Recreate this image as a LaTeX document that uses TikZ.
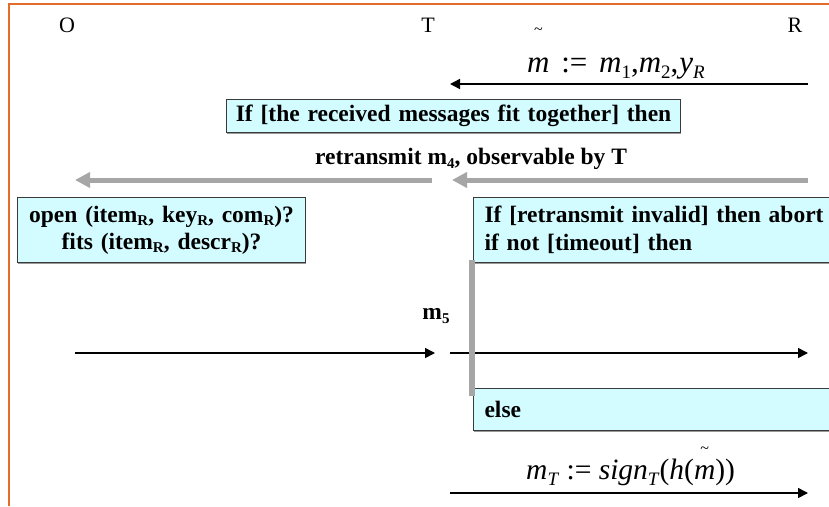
\documentclass[tikz,border=0pt]{standalone}
\usepackage{fontspec}
\setmainfont{Liberation Serif}
\usetikzlibrary{arrows.meta,shadows}
\definecolor{frameorange}{HTML}{E46C2A}
\definecolor{boxfill}{HTML}{D2FCFF}
\definecolor{boxedge}{HTML}{3A3A3A}
\definecolor{bargray}{HTML}{A6A6A6}
% lowered small index inside bold text
\newcommand\lowidx[1]{\raisebox{-0.35ex}{\fontsize{15}{16}\selectfont #1}}
% lowered index inside a formula
\newcommand\mathidx[1]{\raisebox{-0.45ex}{\fontsize{19}{20}\selectfont #1}}
% a letter with a small tilde set high above it
\newcommand\tildeup[2]{\leavevmode\setbox0\hbox{#2}%
  \rlap{\hbox to\wd0{\hss\raisebox{#1}{\smash{\fontsize{16}{16}\selectfont\char`\~}}\hss}}#2}
\begin{document}
\begin{tikzpicture}[x=1pt,y=-1pt,
  lbl/.style={font=\fontsize{22}{24}\selectfont, inner sep=0},
  formula/.style={font=\fontsize{31}{33}\selectfont, inner sep=0},
  note/.style={draw=boxedge, fill=boxfill, line width=1.1pt, inner sep=0,
    anchor=north west, font=\fontsize{23.5}{28}\selectfont\bfseries,
    drop shadow={shadow xshift=0.8pt, shadow yshift=-1.2pt, fill=gray!80, opacity=1}},
  caption/.style={font=\fontsize{23.5}{26}\selectfont\bfseries, inner sep=0},
  msg/.style={-{Triangle[length=10pt,width=10pt]}, line width=1.5pt},
  gmsg/.style={-{Triangle[length=15pt,width=15pt]}, line width=5pt, draw=bargray},
]
\useasboundingbox (0,0) rectangle (829,506);

% frame
\draw[frameorange, line width=2pt] (9,506) -- (9,4) -- (829,4);

% participants
\node[lbl] (O) at (67,25) {O};
\node[lbl] (T) at (428,25) {T};
\node[lbl] (R) at (795,25) {R};

% end points of the messages
\coordinate (r1) at (808,84);  \coordinate (t1) at (450,84);
\coordinate (r2) at (808,180); \coordinate (t2) at (452,180);
\coordinate (t3) at (432,180); \coordinate (o3) at (75,180);
\coordinate (o4) at (75,353);  \coordinate (t4) at (435,353);
\coordinate (t5) at (450,353); \coordinate (r5) at (808,353);
\coordinate (t6) at (450,493); \coordinate (r6) at (808,493);

% first message
\node[formula, anchor=base west] (f1) at (527,72)
  {\tildeup{38pt}{\textit{m}}\hspace{4pt} :=\hspace{4pt} \textit{m}\mathidx{1},\textit{m}\mathidx{2},\hspace{1pt}\textit{y}\mathidx{\textit{R}}};
\draw[msg] (r1) -- (t1);

\node[note, minimum width=454pt, minimum height=33pt, text width=454pt, align=center]
  (check) at (226,99) {If [the received messages fit together] then};

% retransmission
\node[caption] (retx) at (471,159) {retransmit m\lowidx{4}, observable by T};
\draw[gmsg] (r2) -- (t2);
\draw[gmsg] (t3) -- (o3);

\node[note, minimum width=288pt, minimum height=65pt, text width=288pt, align=center,
  font=\fontsize{23.5}{27}\selectfont\bfseries]
  (open) at (17,197) {open (item\lowidx{R}, key\lowidx{R}, com\lowidx{R})?\\fits (item\lowidx{R}, descr\lowidx{R})?};

\node[note, minimum width=370pt, minimum height=65pt, text width=362pt, align=left]
  (valid) at (473,197) {\hspace*{7pt}If [retransmit invalid] then abort\\\hspace*{7pt}if not [timeout] then};

% message m5
\node[caption] (m5) at (436,316) {m\lowidx{5}};
\draw[msg] (o4) -- (t4);
\draw[msg] (t5) -- (r5);

\node[note, minimum width=370pt, minimum height=42pt, text width=362pt, align=left]
  (else) at (473,388) {\hspace*{7pt}else};

% activation bar of T
\coordinate (bartop) at (472,260);
\coordinate (barbot) at (472,396);
\draw[bargray, line width=6pt] (bartop) -- (barbot);

% signed message
\node[formula, anchor=base west, font=\fontsize{29.5}{31}\selectfont] (f2) at (526,479)
  {\textit{m}\mathidx{\textit{T}} := \textit{sign}\mathidx{\textit{T}}(\textit{h}(\tildeup{26pt}{\textit{m}}))};
\draw[msg] (t6) -- (r6);
\end{tikzpicture}
\end{document}
